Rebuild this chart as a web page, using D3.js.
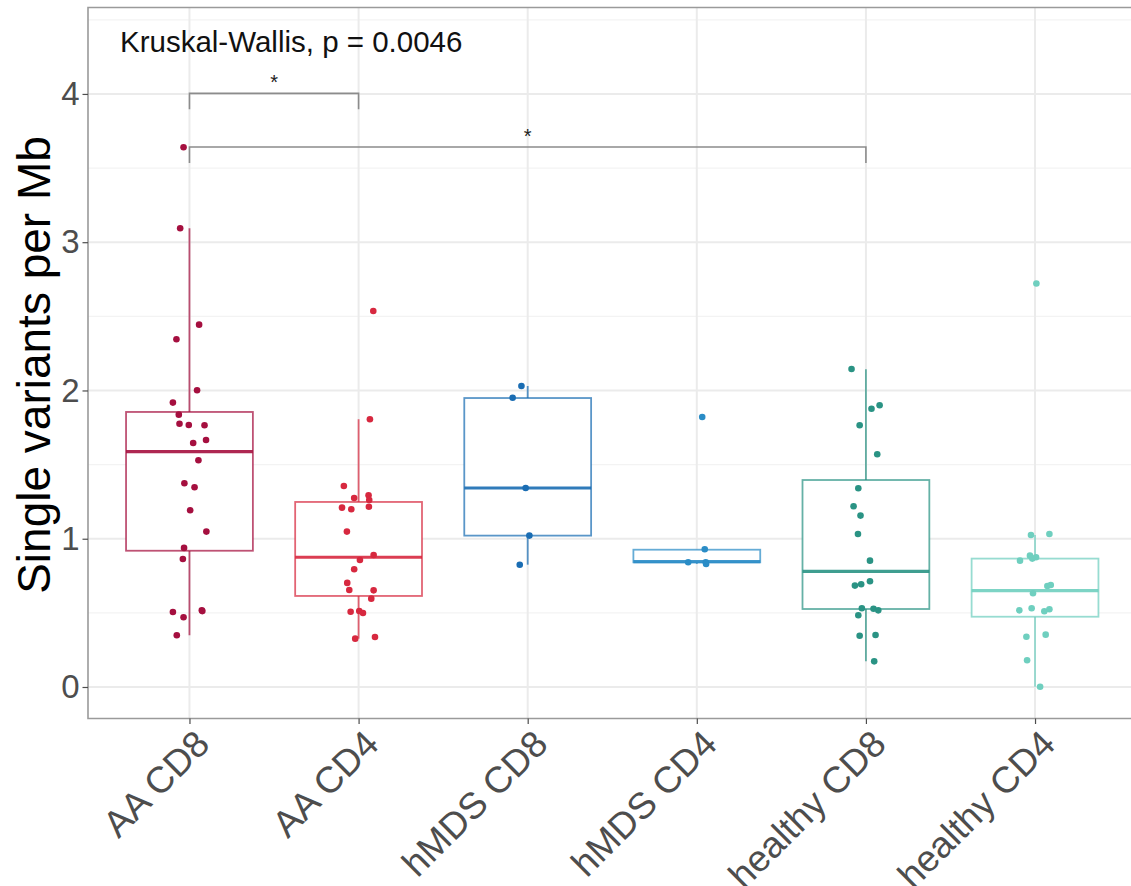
<!DOCTYPE html>
<html>
<head>
<meta charset="utf-8">
<script src="https://cdn.jsdelivr.net/npm/d3@7"></script>
<style>
  html, body { margin: 0; padding: 0; background: #fff; }
  svg { display: block; font-family: "Liberation Sans", Arial, Helvetica, sans-serif; }
</style>
</head>
<body>
<svg id="chart" width="1131" height="886"></svg>
<script>
// ---------- data ----------
const categories = ["AA CD8", "AA CD4", "hMDS CD8", "hMDS CD4", "healthy CD8", "healthy CD4"];

const aaCD8 = [3.64, 3.094, 2.444, 2.345, 2.001, 1.918, 1.837, 1.776, 1.767, 1.765, 1.646, 1.666, 1.529, 1.374, 1.347, 1.192, 1.048, 0.938, 0.863, 0.506, 0.470, 0.517, 0.512, 0.349];
const aaCD8Jit = [-0.035, -0.055, 0.057, -0.077, 0.045, -0.098, -0.063, -0.059, -0.004, 0.089, 0.022, 0.098, 0.053, -0.030, 0.030, 0.004, 0.100, -0.032, -0.039, -0.098, -0.035, 0.073, 0.076, -0.075];

const aaCD4 = [2.536, 1.806, 1.356, 1.275, 1.293, 1.261, 1.210, 1.199, 1.216, 1.048, 0.890, 0.857, 0.794, 0.702, 0.654, 0.652, 0.596, 0.508, 0.513, 0.499, 0.326, 0.337];
const aaCD4Jit = [0.087, 0.067, -0.087, -0.026, 0.059, 0.063, -0.098, -0.043, 0.061, -0.069, 0.089, 0.008, -0.026, -0.067, -0.055, 0.089, 0.075, -0.047, 0.004, 0.026, -0.020, 0.097];

const hmdsCD8 = [2.030, 1.951, 1.342, 1.021, 0.825];
const hmdsCD8Jit = [-0.037, -0.089, -0.012, 0.010, -0.047];

const hmdsCD4 = [1.821, 0.929, 0.841, 0.841, 0.830];
const hmdsCD4Jit = [0.032, 0.047, -0.051, 0.053, 0.055];

const healthyCD8 = [2.145, 1.900, 1.877, 1.765, 1.570, 1.340, 1.219, 1.156, 1.032, 0.852, 0.713, 0.693, 0.684, 0.531, 0.528, 0.517, 0.484, 0.346, 0.351, 0.173];
const healthyCD8Jit = [-0.085, 0.081, 0.033, -0.037, 0.067, -0.045, -0.073, -0.032, -0.047, 0.024, 0.024, -0.028, -0.065, -0.024, 0.045, 0.073, -0.045, -0.037, 0.057, 0.049];

const healthyCD4 = [2.721, 1.025, 1.032, 0.886, 0.875, 0.866, 0.852, 0.681, 0.688, 0.632, 0.517, 0.531, 0.511, 0.524, 0.339, 0.353, 0.180, 0.002];
const healthyCD4Jit = [0.008, -0.024, 0.085, -0.030, 0.006, -0.016, -0.089, 0.073, 0.093, -0.012, -0.093, -0.020, 0.055, 0.085, -0.051, 0.063, -0.047, 0.030];

// box summaries
const whiskerLow  = [0.349, 0.326, 0.825, 0.830, 0.173, 0.002];
const q1          = [0.919, 0.614, 1.021, 0.841, 0.526, 0.474];
const medians     = [1.587, 0.875, 1.342, 0.845, 0.780, 0.650];
const q3          = [1.855, 1.248, 1.949, 0.926, 1.396, 0.866];
const whiskerHigh = [3.094, 1.806, 2.030, 0.926, 2.143, 1.025];

const yTicks = [0, 1, 2, 3, 4];
const comparisons = [
  { from: "AA CD8", to: "AA CD4", y: 4.004, label: "*" },
  { from: "AA CD8", to: "healthy CD8", y: 3.642, label: "*" }
];
const testLabel = "Kruskal-Wallis, p = 0.0046";
const yTitle = "Single variants per Mb";

// ---------- styles ----------
const pointColors = ["#A50F3F", "#D7283F", "#1A6DB3", "#2A8CC6", "#2A9384", "#6FCFBF"];
const groups = [
  { v: aaCD8, j: aaCD8Jit }, { v: aaCD4, j: aaCD4Jit }, { v: hmdsCD8, j: hmdsCD8Jit },
  { v: hmdsCD4, j: hmdsCD4Jit }, { v: healthyCD8, j: healthyCD8Jit }, { v: healthyCD4, j: healthyCD4Jit }
];

// ---------- layout ----------
const svg = d3.select("#chart");
const panel = { left: 88, top: 7.5, right: 1136.5, bottom: 718.5 };

const x = d3.scalePoint().domain(categories).range([panel.left, panel.right]).padding(0.6);
const step = x.step();
const y = d3.scaleLinear().domain([-0.2125, 4.583]).range([panel.bottom, panel.top]);

// gridlines
const g = svg.append("g");
const minor = d3.range(-0.5, 5, 1).filter(v => v > y.domain()[0] && v < y.domain()[1]);
g.selectAll(".minor").data(minor).join("line")
  .attr("x1", panel.left).attr("x2", panel.right)
  .attr("y1", d => y(d)).attr("y2", d => y(d))
  .attr("stroke", "#F3F3F3").attr("stroke-width", 1.2);
g.selectAll(".major").data(yTicks).join("line")
  .attr("x1", panel.left).attr("x2", panel.right)
  .attr("y1", d => y(d)).attr("y2", d => y(d))
  .attr("stroke", "#EBEBEB").attr("stroke-width", 2);
g.selectAll(".vmajor").data(categories).join("line")
  .attr("x1", d => x(d)).attr("x2", d => x(d))
  .attr("y1", panel.top).attr("y2", panel.bottom)
  .attr("stroke", "#EBEBEB").attr("stroke-width", 2);

// boxes
const boxW = step * 0.75;
const boxes = svg.append("g");
categories.forEach((c, i) => {
  const cx = x(c), col = pointColors[i];
  const bg = boxes.append("g").attr("stroke", col).attr("stroke-opacity", 0.72).attr("fill", "none");
  bg.append("line").attr("x1", cx).attr("x2", cx).attr("y1", y(q3[i])).attr("y2", y(whiskerHigh[i])).attr("stroke-width", 1.8);
  bg.append("line").attr("x1", cx).attr("x2", cx).attr("y1", y(q1[i])).attr("y2", y(whiskerLow[i])).attr("stroke-width", 1.8);
  bg.append("rect").attr("x", cx - boxW / 2).attr("width", boxW)
    .attr("y", y(q3[i])).attr("height", y(q1[i]) - y(q3[i]))
    .attr("fill", "#fff").attr("stroke-width", 1.8);
  bg.append("line").attr("x1", cx - boxW / 2).attr("x2", cx + boxW / 2)
    .attr("y1", y(medians[i])).attr("y2", y(medians[i]))
    .attr("stroke-width", 3.2).attr("stroke-opacity", 0.9);
});

// points
const pts = svg.append("g");
groups.forEach((grp, i) => {
  pts.selectAll(null).data(grp.v.map((v, k) => ({ v, j: grp.j[k] }))).join("circle")
    .attr("cx", d => x(categories[i]) + d.j * step)
    .attr("cy", d => y(d.v))
    .attr("r", 3.3)
    .attr("fill", pointColors[i]);
});

// comparison brackets
const br = svg.append("g");
comparisons.forEach(cmp => {
  const x1 = x(cmp.from), x2 = x(cmp.to), yy = y(cmp.y);
  const tick = 16;
  br.append("path")
    .attr("d", `M${x1},${yy + tick}V${yy}H${x2}V${yy + tick}`)
    .attr("fill", "none").attr("stroke", "#8C8C8C").attr("stroke-width", 1.6);
  br.append("text").attr("x", (x1 + x2) / 2).attr("y", yy - 4)
    .attr("text-anchor", "middle").attr("font-size", 20).attr("fill", "#222")
    .text(cmp.label);
});

// test label
svg.append("text").attr("x", 120).attr("y", 51.5)
  .attr("font-size", 29.5).attr("fill", "#111").text(testLabel);

// panel border (top, left, bottom)
svg.append("path")
  .attr("d", `M${panel.right},${panel.top}H${panel.left}V${panel.bottom}H${panel.right}`)
  .attr("fill", "none").attr("stroke", "#9A9A9A").attr("stroke-width", 1.6);

// y axis
const yAxis = d3.axisLeft(y).tickValues(yTicks).tickSize(5.5).tickPadding(3).tickFormat(d3.format("d"));
const ya = svg.append("g").attr("transform", `translate(${panel.left},0)`).call(yAxis);
ya.select(".domain").remove();
ya.selectAll(".tick line").attr("stroke", "#4D4D4D").attr("stroke-width", 1.2);
ya.selectAll(".tick text").attr("font-size", 33).attr("fill", "#4D4D4D")
  .attr("font-family", "Liberation Sans, Arial, sans-serif");

// x axis
const xAxis = d3.axisBottom(x).tickSize(5.5).tickPadding(4);
const xa = svg.append("g").attr("transform", `translate(0,${panel.bottom})`).call(xAxis);
xa.select(".domain").remove();
xa.selectAll(".tick line").attr("stroke", "#4D4D4D").attr("stroke-width", 1.2);
xa.selectAll(".tick text")
  .attr("font-size", 37).attr("fill", "#4D4D4D")
  .attr("font-family", "Liberation Sans, Arial, sans-serif")
  .attr("text-anchor", "end")
  .attr("dy", null).attr("y", 0)
  .attr("transform", "translate(3,9) rotate(-45)")
  .attr("dominant-baseline", "hanging");

// y title
svg.append("text")
  .attr("transform", `translate(50,${(panel.top + panel.bottom) / 2 + 2}) rotate(-90)`)
  .attr("text-anchor", "middle").attr("font-size", 46).attr("fill", "#000")
  .text(yTitle);
</script>
</body>
</html>
